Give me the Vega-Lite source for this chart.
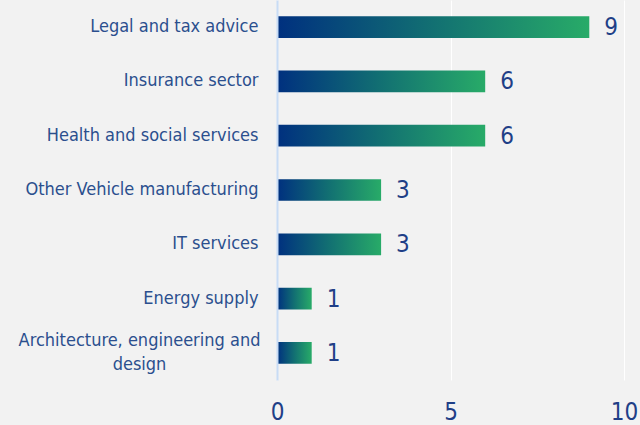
{
  "$schema": "https://vega.github.io/schema/vega-lite/v6.json",
  "autosize": "none",
  "width": 347,
  "height": 380,
  "padding": {"left": 277, "top": 0, "right": 16, "bottom": 45},
  "background": "#f2f2f2",
  "config": {
    "view": {"stroke": null},
    "font": "DejaVu Sans Condensed, Liberation Sans Narrow, sans-serif"
  },
  "data": {
    "values": [
      {"sector": "Legal and tax advice", "value": 9},
      {"sector": "Insurance sector", "value": 6},
      {"sector": "Health and social services", "value": 6},
      {"sector": "Other Vehicle manufacturing", "value": 3},
      {"sector": "IT services", "value": 3},
      {"sector": "Energy supply", "value": 1},
      {"sector": "Architecture, engineering and design", "value": 1}
    ]
  },
  "encoding": {
    "y": {
      "field": "sector",
      "type": "nominal",
      "sort": null,
      "scale": {"paddingInner": 0.6, "paddingOuter": 0.3},
      "axis": {
        "title": null,
        "ticks": false,
        "domain": true,
        "domainColor": "#c8dcf5",
        "domainWidth": 2,
        "labelFont": "DejaVu Sans Condensed, Liberation Sans Narrow, sans-serif",
        "labelFontSize": 18,
        "labelColor": "#2b4f8e",
        "labelPadding": {"condition": {"test": "datum.value == 'Architecture, engineering and design'", "value": 138}, "value": 19},
        "labelAlign": {"condition": {"test": "datum.value == 'Architecture, engineering and design'", "value": "center"}, "value": "right"},
        "labelOffset": {"condition": {"test": "datum.value == 'Architecture, engineering and design'", "value": -12}, "value": 0},
        "labelLineHeight": 24,
        "labelLimit": 300,
        "labelExpr": "datum.label == 'Architecture, engineering and design' ? ['Architecture, engineering and', 'design'] : datum.label",
        "zindex": 2
      }
    },
    "x": {
      "field": "value",
      "type": "quantitative",
      "scale": {"domain": [0, 10]},
      "axis": {
        "title": null,
        "values": [0, 5, 10],
        "ticks": false,
        "domain": false,
        "grid": true,
        "gridColor": "#ffffff",
        "gridWidth": 1,
        "labelFont": "DejaVu Sans Condensed, Liberation Sans Narrow, sans-serif",
        "labelFontSize": 24,
        "labelColor": "#1f3f87",
        "labelPadding": 20,
        "labelFlush": false
      }
    }
  },
  "layer": [
    {
      "mark": {
        "type": "bar",
        "color": {
          "gradient": "linear",
          "x1": 0, "y1": 0, "x2": 1, "y2": 0,
          "stops": [
            {"offset": 0, "color": "#00307f"},
            {"offset": 0.5, "color": "#127072"},
            {"offset": 1, "color": "#28ab68"}
          ]
        }
      }
    },
    {
      "mark": {
        "type": "text",
        "align": "left",
        "baseline": "middle",
        "dx": 15,
        "dy": 1,
        "fontSize": 24,
        "font": "DejaVu Sans Condensed, Liberation Sans Narrow, sans-serif",
        "color": "#1f3f87"
      },
      "encoding": {"text": {"field": "value", "type": "quantitative"}}
    }
  ]
}
